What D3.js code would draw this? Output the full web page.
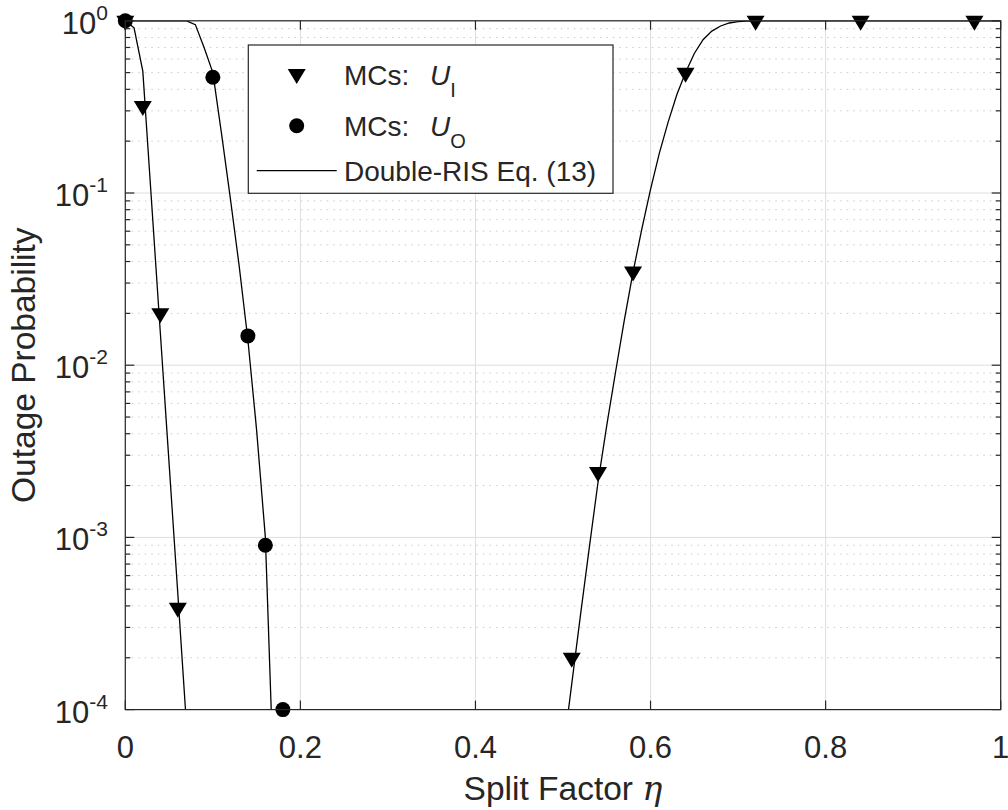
<!DOCTYPE html>
<html><head><meta charset="utf-8">
<script src="https://cdn.jsdelivr.net/npm/d3@7"></script>
<style>
body{margin:0;background:#fff}
svg{display:block}
text{font-family:"Liberation Sans",Arial,Helvetica,sans-serif;fill:#262626}
</style>
</head><body>
<svg id="chart" width="1008" height="810"></svg>
<script>
// ---------- data ----------
// Monte-Carlo points, user U_I (triangles)
const mcEtaI = [0, 0.02, 0.04, 0.06, 0.51, 0.54, 0.58, 0.64, 0.72, 0.84, 0.97];
const mcValI = [1, 0.32, 0.020, 0.00039, 0.00020, 0.0024, 0.035, 0.50, 1, 1, 1];
// Monte-Carlo points, user U_O (circles)
const mcEtaO = [0, 0.10, 0.14, 0.16, 0.18];
const mcValO = [1, 0.47, 0.0148, 0.0009, 0.0001];
// Analytical curve Eq. (13), U_I, low-eta branch
const thEtaI1 = [0, 0.01, 0.02, 0.03, 0.04, 0.05, 0.06, 0.07];
const thValI1 = [1, 0.91, 0.51, 0.089, 0.0155, 0.0027, 0.00047, 0.00008];
// Analytical curve Eq. (13), U_I, high-eta branch
const thEtaI2 = [0.50, 0.51, 0.52, 0.53, 0.54, 0.55, 0.56, 0.57, 0.58, 0.59, 0.60, 0.61, 0.62, 0.63, 0.64, 0.65, 0.66, 0.67, 0.68, 0.69, 0.70, 0.71, 0.72, 1.0];
const thValI2 = [0.000056, 0.000141, 0.000355, 0.00087, 0.00209, 0.00447, 0.0091, 0.0182, 0.0347, 0.0617, 0.105, 0.17, 0.257, 0.372, 0.501, 0.646, 0.776, 0.871, 0.933, 0.971, 0.989, 0.995, 1, 1];
// Analytical curve Eq. (13), U_O
const thEtaO = [0, 0.07, 0.08, 0.09, 0.10, 0.11, 0.12, 0.13, 0.14, 0.15, 0.16, 0.17];
const thValO = [1, 1, 0.95, 0.70, 0.50, 0.22, 0.093, 0.038, 0.0141, 0.0042, 0.0010, 0.000032];

const xTickVals = [0, 0.2, 0.4, 0.6, 0.8, 1];
const xTickLabels = ["0", "0.2", "0.4", "0.6", "0.8", "1"];
const yTickVals = [1, 0.1, 0.01, 0.001, 0.0001];
const yTickExps = ["0", "-1", "-2", "-3", "-4"];

const legendLabels = ["MCs:", "MCs:", "Double-RIS Eq. (13)"];
const legendSubs = ["I", "O", null];

// ---------- layout ----------
const W = 1008, H = 810;
const L = 125.3, R = 1000.7, T = 20.8, B = 709.6;
const svg = d3.select("#chart");
const x = d3.scaleLinear().domain([0, 1]).range([L, R]);
const y = d3.scaleLog().domain([1e-4, 1]).range([B, T]);
const axisCol = "#262626";

svg.append("defs").append("clipPath").attr("id", "clip")
  .append("rect").attr("x", L).attr("y", T).attr("width", R - L).attr("height", B - T);

// minor grid (y only)
const minorY = y.ticks().filter(v => Math.abs(Math.log10(v) - Math.round(Math.log10(v))) > 1e-6);
svg.append("g").selectAll("line").data(minorY).join("line")
  .attr("x1", L).attr("x2", R).attr("y1", d => y(d)).attr("y2", d => y(d))
  .attr("stroke", "#cbcbcb").attr("stroke-width", 1).attr("stroke-dasharray", "1.5,5");
// major grid
svg.append("g").selectAll("line").data(yTickVals).join("line")
  .attr("x1", L).attr("x2", R).attr("y1", d => y(d)).attr("y2", d => y(d))
  .attr("stroke", "#dedede").attr("stroke-width", 1);
svg.append("g").selectAll("line").data(xTickVals).join("line")
  .attr("x1", d => x(d)).attr("x2", d => x(d)).attr("y1", T).attr("y2", B)
  .attr("stroke", "#dedede").attr("stroke-width", 1);

// analytical lines
const line = d3.line().x(d => x(d[0])).y(d => y(d[1]));
const lineG = svg.append("g").attr("clip-path", "url(#clip)");
[[thEtaI1, thValI1], [thEtaI2, thValI2], [thEtaO, thValO]].forEach(([ex, vy]) => {
  lineG.append("path").datum(ex.map((e, i) => [e, vy[i]]))
    .attr("d", line).attr("fill", "none").attr("stroke", "#000").attr("stroke-width", 1.3);
});

// markers
const tri = "M-9,-5L9,-5L0,10Z";
svg.append("g").selectAll("path").data(mcEtaI.map((e, i) => [e, mcValI[i]])).join("path")
  .attr("d", tri).attr("transform", d => `translate(${x(d[0])},${y(d[1])})`).attr("fill", "#000");
svg.append("g").selectAll("circle").data(mcEtaO.map((e, i) => [e, mcValO[i]])).join("circle")
  .attr("cx", d => x(d[0])).attr("cy", d => y(d[1])).attr("r", 7.5).attr("fill", "#000");

// axes box
svg.append("rect").attr("x", L).attr("y", T).attr("width", R - L).attr("height", B - T)
  .attr("fill", "none").attr("stroke", axisCol).attr("stroke-width", 1.2);

// ticks
const tk = svg.append("g").attr("stroke", axisCol).attr("stroke-width", 1.2);
xTickVals.forEach(v => {
  tk.append("line").attr("x1", x(v)).attr("x2", x(v)).attr("y1", B).attr("y2", B - 9);
  tk.append("line").attr("x1", x(v)).attr("x2", x(v)).attr("y1", T).attr("y2", T + 9);
});
yTickVals.forEach(v => {
  tk.append("line").attr("x1", L).attr("x2", L + 9).attr("y1", y(v)).attr("y2", y(v));
  tk.append("line").attr("x1", R).attr("x2", R - 9).attr("y1", y(v)).attr("y2", y(v));
});
minorY.forEach(v => {
  tk.append("line").attr("x1", L).attr("x2", L + 5).attr("y1", y(v)).attr("y2", y(v));
  tk.append("line").attr("x1", R).attr("x2", R - 5).attr("y1", y(v)).attr("y2", y(v));
});

// x tick labels
svg.append("g").selectAll("text").data(xTickVals).join("text")
  .attr("x", d => x(d)).attr("y", 758).attr("text-anchor", "middle")
  .attr("font-size", 31).text((d, i) => xTickLabels[i]);
// y tick labels (whole "10^k" label right-aligned, as MATLAB does)
const yl = svg.append("g");
yTickVals.forEach((v, i) => {
  const t = yl.append("text").attr("x", 108).attr("y", y(v) + 13).attr("text-anchor", "end")
    .attr("font-size", 31);
  t.append("tspan").text("10");
  t.append("tspan").attr("dy", -14).attr("font-size", 21).text(yTickExps[i]);
});

// axis labels
const xl = svg.append("text").attr("x", (L + R) / 2).attr("y", 800).attr("text-anchor", "middle")
  .attr("font-size", 33.5);
xl.append("tspan").text("Split Factor ");
xl.append("tspan").attr("font-family", "'DejaVu Serif','Liberation Serif',serif").attr("font-style", "italic").text("η");
svg.append("text").attr("transform", `translate(35,${(T + B) / 2}) rotate(-90)`)
  .attr("text-anchor", "middle").attr("font-size", 33.5).text("Outage Probability");

// legend
const lg = svg.append("g");
lg.append("rect").attr("x", 248.3).attr("y", 45).attr("width", 364.7).attr("height", 148.3)
  .attr("fill", "#fff").attr("stroke", axisCol).attr("stroke-width", 1.2);
const rowY = [75, 125.7, 170.7];
lg.append("path").attr("d", tri).attr("transform", `translate(296.7,${rowY[0] - 1})`).attr("fill", "#000");
lg.append("circle").attr("cx", 296.7).attr("cy", rowY[1]).attr("r", 7.5).attr("fill", "#000");
lg.append("line").attr("x1", 256.7).attr("x2", 336.7).attr("y1", rowY[2]).attr("y2", rowY[2])
  .attr("stroke", "#000").attr("stroke-width", 1.3);
legendLabels.forEach((t, i) => {
  const tx = lg.append("text").attr("x", 344).attr("y", rowY[i] + 10).attr("font-size", 28).attr("fill", "#000");
  tx.append("tspan").text(t);
  if (legendSubs[i]) {
    tx.append("tspan").attr("x", 430).attr("font-style", "italic").text("U");
    tx.append("tspan").attr("dy", 12).attr("font-size", 20).text(legendSubs[i]);
  }
});
</script>
</body></html>
